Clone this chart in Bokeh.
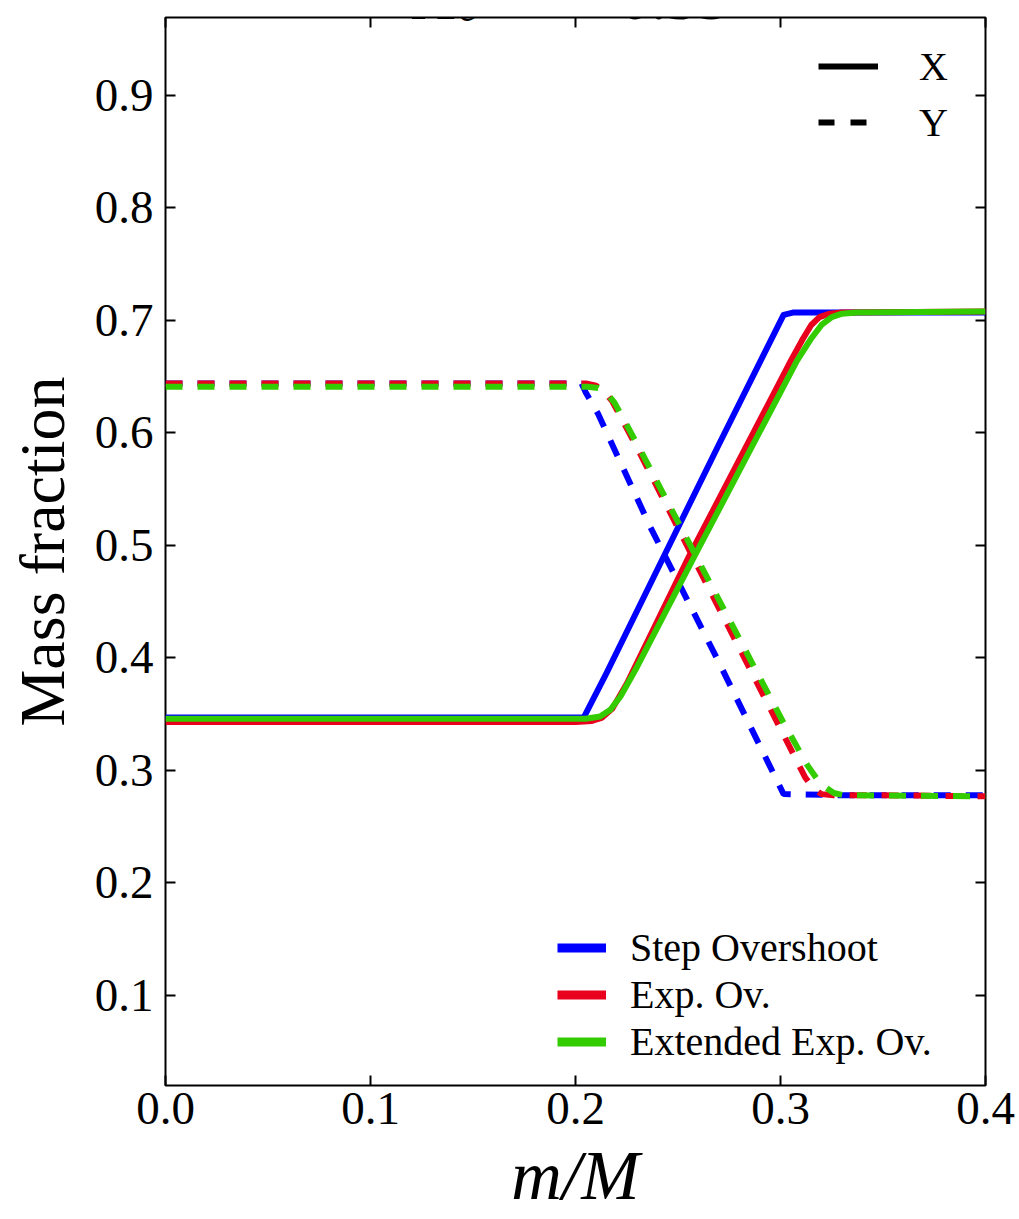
import numpy as np
from bokeh.plotting import figure
from bokeh.models import (Range1d, LinearAxis, FixedTicker, PrintfTickFormatter,
                          Legend, LegendItem, Label)
from bokeh.embed import file_html
from bokeh.resources import INLINE

# ---------------- data ----------------
# Step Overshoot
step_X_m = [0.0, 0.100, 0.204, 0.215, 0.243, 0.270, 0.3015, 0.306, 0.33, 0.40]
step_X   = [0.347, 0.347, 0.347, 0.386, 0.490, 0.590, 0.705, 0.707, 0.707, 0.707]
step_Y_m = [0.0, 0.100, 0.203, 0.205, 0.211, 0.2366, 0.270, 0.3015, 0.33, 0.40]
step_Y   = [0.644, 0.644, 0.644, 0.636, 0.617, 0.516, 0.396, 0.279, 0.278, 0.278]

# Exp. Ov.
exp_X_m = [0.0, 0.100, 0.200, 0.208, 0.213, 0.218, 0.225, 0.255, 0.305, 0.311,
           0.315, 0.319, 0.324, 0.330, 0.40]
exp_X   = [0.343, 0.343, 0.343, 0.344, 0.347, 0.355, 0.377, 0.489, 0.664, 0.684,
           0.696, 0.703, 0.706, 0.707, 0.708]
exp_Y_m = [0.0, 0.100, 0.205, 0.210, 0.214, 0.218, 0.230, 0.251, 0.300, 0.312,
           0.316, 0.320, 0.326, 0.35, 0.40]
exp_Y   = [0.644, 0.644, 0.644, 0.642, 0.637, 0.628, 0.587, 0.512, 0.337, 0.294,
           0.284, 0.279, 0.278, 0.278, 0.277]

# Extended Exp. Ov.
ext_X_m = [0.0, 0.100, 0.205, 0.212, 0.217, 0.222, 0.230, 0.2576, 0.308, 0.315,
           0.320, 0.325, 0.330, 0.337, 0.40]
ext_X   = [0.346, 0.346, 0.346, 0.348, 0.354, 0.366, 0.392, 0.489, 0.664, 0.684,
           0.696, 0.703, 0.706, 0.707, 0.708]
ext_Y_m = [0.0, 0.100, 0.206, 0.211, 0.215, 0.219, 0.231, 0.252, 0.301, 0.313,
           0.318, 0.322, 0.326, 0.331, 0.40]
ext_Y   = [0.641, 0.641, 0.641, 0.640, 0.636, 0.627, 0.587, 0.514, 0.344, 0.305,
           0.292, 0.285, 0.280, 0.278, 0.277]

x_ticks = [0.0, 0.1, 0.2, 0.3, 0.4]
y_ticks = [0.1, 0.2, 0.3, 0.4, 0.5, 0.6, 0.7, 0.8, 0.9]

model_names = ["Step Overshoot", "Exp. Ov.", "Extended Exp. Ov."]
model_colors = ["#0000ff", "#e8001c", "#33cc00"]
species_names = ["X", "Y"]

title_main = "X"
title_sub = "c"
title_value = "= 0.35"

FONT = "Liberation Serif"
DASH = "17 15"
LW = 6

# ---------------- figure ----------------
p = figure(frame_width=820, frame_height=1068,
           output_backend="svg", toolbar_location=None,
           x_range=Range1d(0.0, 0.4), y_range=Range1d(0.02, 0.9693),
           min_border_left=165, min_border_right=34, min_border_top=17,
           min_border_bottom=130, x_axis_type=None, y_axis_type=None)
p.background_fill_color = "white"
p.border_fill_color = "white"
p.outline_line_color = "black"
p.outline_line_width = 2
p.xgrid.visible = False
p.ygrid.visible = False


def style_axis(ax, ticks, labels=True):
    ax.ticker = FixedTicker(ticks=ticks)
    ax.axis_line_color = None
    ax.major_tick_in = 10
    ax.major_tick_out = 0
    ax.major_tick_line_width = 2
    ax.major_tick_line_color = "black"
    ax.minor_tick_line_color = None
    ax.formatter = PrintfTickFormatter(format="%.1f")
    ax.major_label_text_font = FONT
    if labels:
        ax.major_label_text_font_size = "47px"
        ax.major_label_text_color = "black"
    else:
        ax.major_label_text_font_size = "0px"
        ax.major_label_text_color = None


xb = LinearAxis(axis_label="m/M")
style_axis(xb, x_ticks)
xb.major_label_standoff = 7
xb.axis_label_text_font = FONT
xb.axis_label_text_font_size = "70px"
xb.axis_label_text_font_style = "italic"
xb.axis_label_text_color = "black"
xb.axis_label_standoff = 10
p.add_layout(xb, "below")

yl = LinearAxis(axis_label="Mass fraction")
style_axis(yl, y_ticks)
yl.major_label_standoff = 12
yl.axis_label_text_font = FONT
yl.axis_label_text_font_size = "64px"
yl.axis_label_text_font_style = "normal"
yl.axis_label_text_color = "black"
yl.axis_label_standoff = 14
p.add_layout(yl, "left")

xt = LinearAxis()
style_axis(xt, x_ticks, labels=False)
p.add_layout(xt, "above")
yr = LinearAxis()
style_axis(yr, y_ticks, labels=False)
p.add_layout(yr, "right")

# ---------------- curves ----------------
series = [(step_X_m, step_X, step_Y_m, step_Y),
          (exp_X_m, exp_X, exp_Y_m, exp_Y),
          (ext_X_m, ext_X, ext_Y_m, ext_Y)]
for (xm, xv, ym, yv), col in zip(series, model_colors):
    p.line(xm, xv, line_color=col, line_width=LW, line_join="round")
    p.line(ym, yv, line_color=col, line_width=LW, line_dash=DASH)

# ---------------- legends (proxy renderers draw nothing in the plot) ----------------
nan1 = [np.nan]
sty_solid = p.line(nan1, nan1, line_color="black", line_width=LW)
sty_dash = p.line(nan1, nan1, line_color="black", line_width=LW, line_dash="16 16")
leg1 = Legend(items=[LegendItem(label=species_names[0], renderers=[sty_solid]),
                     LegendItem(label=species_names[1], renderers=[sty_dash])],
              location=(653, 935), margin=0, padding=0, spacing=0,
              glyph_width=60, glyph_height=56, label_height=56,
              label_standoff=41, label_text_font=FONT,
              label_text_font_size="40px", label_text_color="black",
              border_line_color=None, background_fill_alpha=0)
p.add_layout(leg1)

col_rs = [p.line(nan1, nan1, line_color=c, line_width=9) for c in model_colors]
leg2 = Legend(items=[LegendItem(label=n, renderers=[r])
                     for n, r in zip(model_names, col_rs)],
              location=(392, 20), margin=0, padding=0, spacing=0,
              glyph_width=49, glyph_height=45, label_height=45,
              label_standoff=24, label_text_font=FONT,
              label_text_font_size="40px", label_text_color="black",
              border_line_color=None, background_fill_alpha=0)
p.add_layout(leg2)

# ---------------- (cropped) title ----------------
def dx(px):
    return (px - 165) / 2050.0

top_y = 0.9693 + 19 / 1125.0
p.add_layout(Label(x=dx(410), y=top_y, text=title_main, text_font=FONT,
                   text_font_size="62px", text_baseline="alphabetic",
                   text_align="left", text_color="black"))
p.add_layout(Label(x=dx(458), y=top_y - 8 / 1125.0, text=title_sub,
                   text_font=FONT, text_font_size="44px",
                   text_font_style="italic", text_baseline="alphabetic",
                   text_align="left", text_color="black"))
p.add_layout(Label(x=dx(728), y=top_y, text=title_value, text_font=FONT,
                   text_font_size="62px", text_baseline="alphabetic",
                   text_align="right", text_color="black"))

open("out.html", "w").write(file_html(p, INLINE))
